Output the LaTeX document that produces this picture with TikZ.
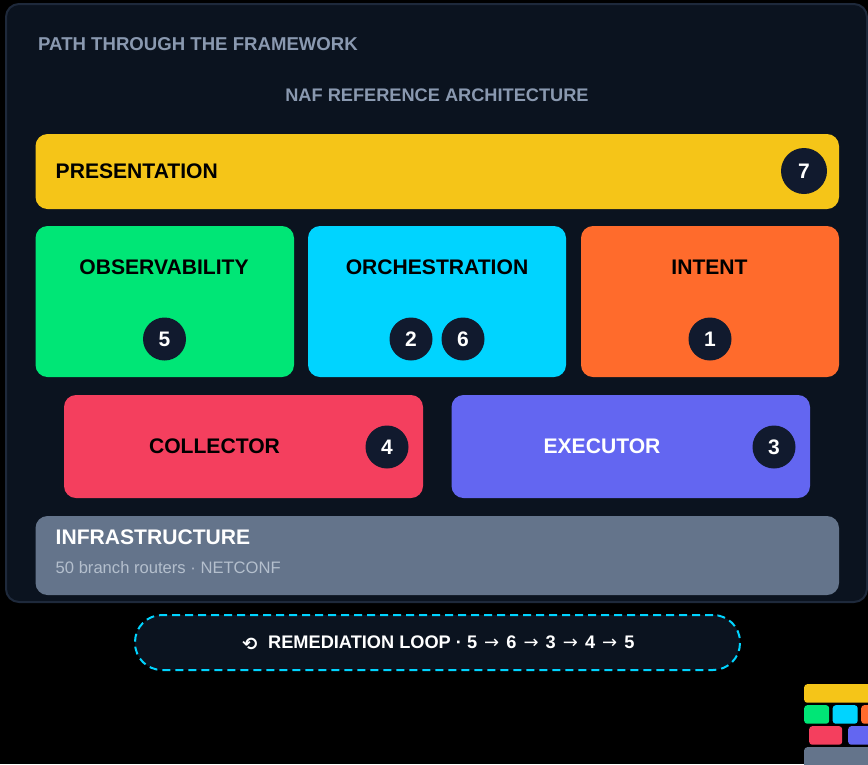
\documentclass[tikz,border=0pt]{standalone}
\usepackage{fontspec}
\setmainfont{Liberation Sans}
\newfontfamily\symfont{DejaVu Sans}
\definecolor{pagebg}{HTML}{000000}
\definecolor{panelbg}{HTML}{0B131F}
\definecolor{panelline}{HTML}{1E293B}
\definecolor{badgebg}{HTML}{111A2E}
\definecolor{muted}{HTML}{8A99B0}
\definecolor{subtext}{HTML}{B4BFCD}
\definecolor{presyellow}{HTML}{F5C518}
\definecolor{obsgreen}{HTML}{00E676}
\definecolor{orchcyan}{HTML}{00D4FF}
\definecolor{intorange}{HTML}{FF6B2C}
\definecolor{colred}{HTML}{F43F5E}
\definecolor{exeblue}{HTML}{6366F1}
\definecolor{infragrey}{HTML}{64748B}
\newcommand{\pxfont}[1]{\fontsize{#1}{#1}\selectfont}
\newcommand{\looparrow}{\hspace{2pt}{\symfont\mdseries\pxfont{18}→}\hspace{2pt}}
\tikzset{
  block/.style={rectangle,rounded corners=12pt,inner sep=0pt,text centered},
  mini/.style={rectangle,rounded corners=3pt,inner sep=0pt,anchor=north west},
  layer/.style={inner sep=0pt,font=\pxfont{21.1}\bfseries},
  badge/.style={circle,fill=badgebg,text=white,inner sep=0pt,minimum size=43pt,font=\pxfont{21}\bfseries},
  heading/.style={inner sep=0pt,text=muted,font=\pxfont{18.2}\bfseries}
}
\begin{document}
\begin{tikzpicture}[x=1pt,y=-1pt]
        \useasboundingbox (0,0) rectangle (868,764);
        \clip (0,0) rectangle (868,764);
        \fill[pagebg] (0,0) rectangle (868,764);
        \node[rectangle,rounded corners=13pt,draw=panelline,line width=2pt,fill=panelbg,inner sep=0pt,
        minimum width=861pt,minimum height=598pt] (panel) at (436.5,303) {};
        \node[heading,anchor=west,font=\pxfont{18.6}\bfseries] (pathtitle) at (38,44.5) {PATH THROUGH THE FRAMEWORK};
        \node[heading] (naftitle) at (437,95) {NAF REFERENCE ARCHITECTURE};
        % framework layers
        \node[block,fill=presyellow,minimum width=803.5pt,minimum height=75pt] (presentation) at (437.25,171.5) {};
        \node[block,fill=obsgreen,minimum width=258.5pt,minimum height=151pt] (observability) at (164.75,301.5) {};
        \node[block,fill=orchcyan,minimum width=258pt,minimum height=151pt] (orchestration) at (437,301.5) {};
        \node[block,fill=intorange,minimum width=258pt,minimum height=151pt] (intent) at (710,301.5) {};
        \node[block,fill=colred,minimum width=359pt,minimum height=103pt] (collector) at (243.5,446.5) {};
        \node[block,fill=exeblue,minimum width=358.5pt,minimum height=103pt] (executor) at (630.75,446.5) {};
        \node[block,fill=infragrey,minimum width=803.5pt,minimum height=79pt] (infrastructure) at (437.25,555.5) {};
        % labels
        \node[layer,anchor=west] (preslabel) at (55.5,171) {PRESENTATION};
        \node[layer] (obslabel) at (164,267) {OBSERVABILITY};
        \node[layer] (orchlabel) at (437,267) {ORCHESTRATION};
        \node[layer] (intlabel) at (709.5,267) {INTENT};
        \node[layer] (collabel) at (214.5,446.5) {COLLECTOR};
        \node[layer,text=white] (exelabel) at (602,446.5) {EXECUTOR};
        \node[layer,text=white,anchor=west] (infralabel) at (55.5,537) {INFRASTRUCTURE};
        \node[inner sep=0pt,anchor=west,text=subtext,font=\pxfont{16.6}] (infrasub) at (55.5,568) {50 branch routers · NETCONF};
        % badges
        \node[badge,minimum size=46pt] (badgeseven) at (804,171) {7};
        \node[badge] (badgefive) at (164.5,339) {5};
        \node[badge] (badgetwo) at (411,339) {2};
        \node[badge] (badgesix) at (463,339) {6};
        \node[badge] (badgeone) at (710,339) {1};
        \node[badge] (badgefour) at (387,447) {4};
        \node[badge] (badgethree) at (774,447) {3};
        % remediation loop
        \node[rectangle,rounded corners=27pt,draw=orchcyan,line width=2pt,dash pattern=on 8pt off 5pt,fill=panelbg,
        inner sep=0pt,minimum width=605pt,minimum height=55pt] (loop) at (437.5,642.5) {};
        \node[inner sep=0pt,text=white,font=\pxfont{18.2}\bfseries,anchor=west] (looplabel) at (268,642.5)
        {REMEDIATION LOOP · 5 \looparrow{} 6 \looparrow{} 3 \looparrow{} 4 \looparrow{} 5};
        \node[inner sep=0pt,text=white,font=\pxfont{18}\symfont\bfseries] (loopicon) at (250,644) {⟲};
        % small overview
        \node[mini,fill=presyellow,minimum width=80pt,minimum height=18.5pt] (minipres) at (804,684) {};
        \node[mini,fill=obsgreen,minimum width=25pt,minimum height=18.5pt] (miniobs) at (804,705) {};
        \node[mini,fill=orchcyan,minimum width=25pt,minimum height=18.5pt] (miniorch) at (832.5,705) {};
        \node[mini,fill=intorange,minimum width=25pt,minimum height=18.5pt] (miniint) at (861,705) {};
        \node[mini,fill=colred,minimum width=33pt,minimum height=18.5pt] (minicol) at (809,726) {};
        \node[mini,fill=exeblue,minimum width=33pt,minimum height=18.5pt] (miniexe) at (848,726) {};
        \node[mini,fill=infragrey,minimum width=80pt,minimum height=30pt] (miniinfra) at (804,747) {};
    \end{tikzpicture}
\end{document}
